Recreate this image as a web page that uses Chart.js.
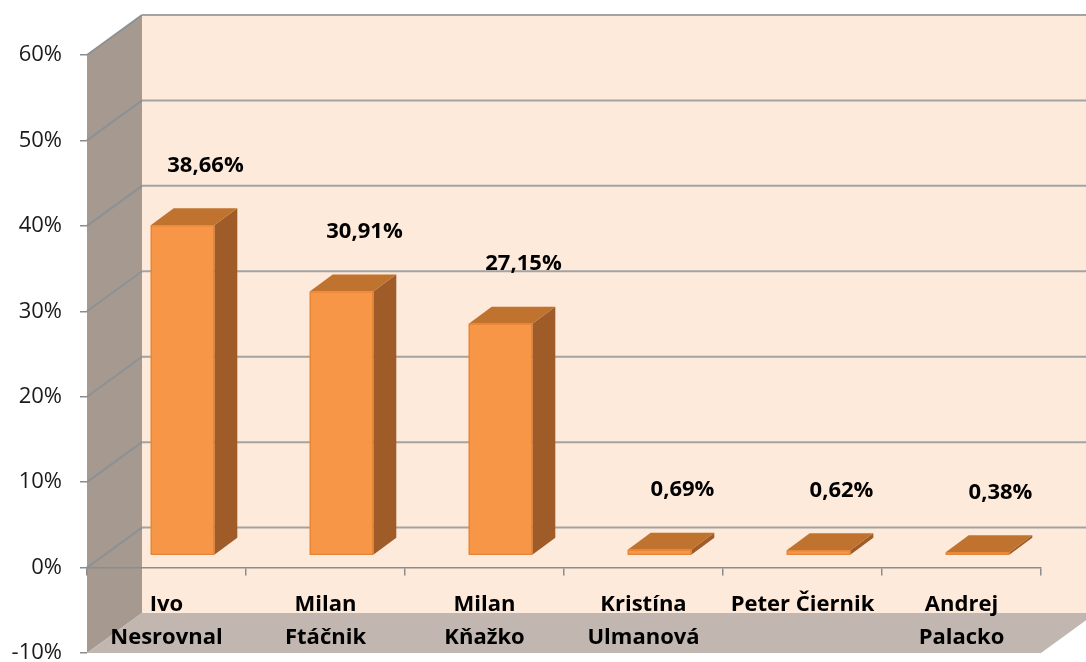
<!DOCTYPE html>
<html>
<head>
<meta charset="utf-8">
<script src="https://cdn.jsdelivr.net/npm/chart.js@4/dist/chart.umd.min.js"></script>
<style>
  body { margin: 0; background: #fff; }
  canvas { display: block; }
</style>
</head>
<body>
<canvas id="chart" width="1086" height="662"></canvas>
<script>
const candidates = [
  ["Ivo", "Nesrovnal"],
  ["Milan", "Ftáčnik"],
  ["Milan", "Kňažko"],
  ["Kristína", "Ulmanová"],
  "Peter Čiernik",
  ["Andrej", "Palacko"]
];
const shares = [38.66, 30.91, 27.15, 0.69, 0.62, 0.38];
const axisMin = -10;
const axisMax = 60;
const axisStep = 10;

const FONT = "'Open Sans', sans-serif";

// 3d look: depth of the box and of the bars
const depth = { dx: 55, dy: -40 };
const barShift = { dx: 16, dy: -12 };
const barDepth = { dx: 23, dy: -17 };

function poly(ctx, pts, fill) {
  ctx.beginPath();
  ctx.moveTo(pts[0][0], pts[0][1]);
  for (let i = 1; i < pts.length; i++) ctx.lineTo(pts[i][0], pts[i][1]);
  ctx.closePath();
  ctx.fillStyle = fill;
  ctx.fill();
}

const walls3d = {
  id: "walls3d",
  beforeDraw(chart) {
    const ctx = chart.ctx;
    const { left, right, top, bottom } = chart.chartArea;
    const ys = chart.scales.y;
    ctx.save();
    // back wall
    poly(ctx, [[left + depth.dx, top + depth.dy], [right + depth.dx, top + depth.dy],
      [right + depth.dx, bottom + depth.dy], [left + depth.dx, bottom + depth.dy]], "#fdeada");
    // side wall
    poly(ctx, [[left, top], [left + depth.dx, top + depth.dy],
      [left + depth.dx, bottom + depth.dy], [left, bottom]], "#a59990");
    // floor
    poly(ctx, [[left, bottom], [right, bottom],
      [right + depth.dx, bottom + depth.dy], [left + depth.dx, bottom + depth.dy]], "#c1b6b0");

    ctx.lineWidth = 2;
    ys.ticks.forEach(t => {
      if (t.value <= axisMin) return;
      const py = ys.getPixelForValue(t.value);
      ctx.strokeStyle = "#8d9194";
      ctx.beginPath();
      ctx.moveTo(left, py);
      ctx.lineTo(left + depth.dx, py + depth.dy);
      ctx.stroke();
      ctx.strokeStyle = "#a3a3a3";
      ctx.beginPath();
      ctx.moveTo(left + depth.dx, py + depth.dy);
      ctx.lineTo(right + depth.dx, py + depth.dy);
      ctx.stroke();
    });
    ctx.restore();
  },
  afterDatasetsDraw(chart) {
    const ctx = chart.ctx;
    const meta = chart.getDatasetMeta(0);
    ctx.save();
    meta.data.forEach((bar, i) => {
      const x0 = bar.x - bar.width / 2 + barShift.dx;
      const x1 = bar.x + bar.width / 2 + barShift.dx;
      const yt = bar.y + barShift.dy;
      const yb = bar.base + barShift.dy;
      // side
      poly(ctx, [[x1, yt], [x1 + barDepth.dx, yt + barDepth.dy],
        [x1 + barDepth.dx, yb + barDepth.dy], [x1, yb]], "#9f5b28");
      // top
      poly(ctx, [[x0, yt], [x1, yt], [x1 + barDepth.dx, yt + barDepth.dy],
        [x0 + barDepth.dx, yt + barDepth.dy]], "#c0722f");
      // front
      poly(ctx, [[x0, yt], [x1, yt], [x1, yb], [x0, yb]], "#f79646");
      ctx.strokeStyle = "#e07f30";
      ctx.lineWidth = 1;
      ctx.strokeRect(x0 + 0.5, yt + 0.5, x1 - x0 - 1, yb - yt - 1);

      // value label
      ctx.fillStyle = "#000";
      ctx.font = "bold 22px " + FONT;
      ctx.textAlign = "center";
      ctx.textBaseline = "middle";
      const txt = shares[i].toFixed(2).replace(".", ",") + "%";
      ctx.fillText(txt, (x0 + x1) / 2 + 23, yt - 60);
    });
    ctx.restore();
  }
};

new Chart(document.getElementById("chart"), {
  type: "bar",
  data: {
    labels: candidates,
    datasets: [{
      data: shares,
      backgroundColor: "rgba(0,0,0,0)",
      borderWidth: 0,
      barPercentage: 0.4,
      categoryPercentage: 1
    }]
  },
  options: {
    responsive: false,
    animation: false,
    events: [],
    layout: { padding: { top: 55, right: 45, bottom: 9, left: 0 } },
    plugins: {
      legend: { display: false },
      tooltip: { enabled: false }
    },
    scales: {
      x: {
        position: { y: 0 },
        grid: { drawOnChartArea: false, drawTicks: true, tickLength: 7, color: "#8c8c8c", lineWidth: 1.5 },
        border: { display: true, color: "#8c8c8c", width: 1.5 },
        ticks: {
          color: "#000",
          padding: 14,
          maxRotation: 0,
          autoSkip: false,
          font: { family: FONT, size: 22, weight: "bold", lineHeight: 1.5 }
        }
      },
      y: {
        min: axisMin,
        max: axisMax,
        grid: { drawOnChartArea: false, drawTicks: true, tickLength: 7, color: "#8c8c8c", lineWidth: 1.5 },
        border: { display: false },
        ticks: {
          stepSize: axisStep,
          color: "#1a1a1a",
          padding: 18,
          font: { family: FONT, size: 22 },
          callback: v => v + "%"
        },
        afterFit(scale) {
          scale.width = 87;
          scale.paddingTop = 0;
          scale.paddingBottom = 0;
        }
      }
    }
  },
  plugins: [walls3d]
});
</script>
</body>
</html>
